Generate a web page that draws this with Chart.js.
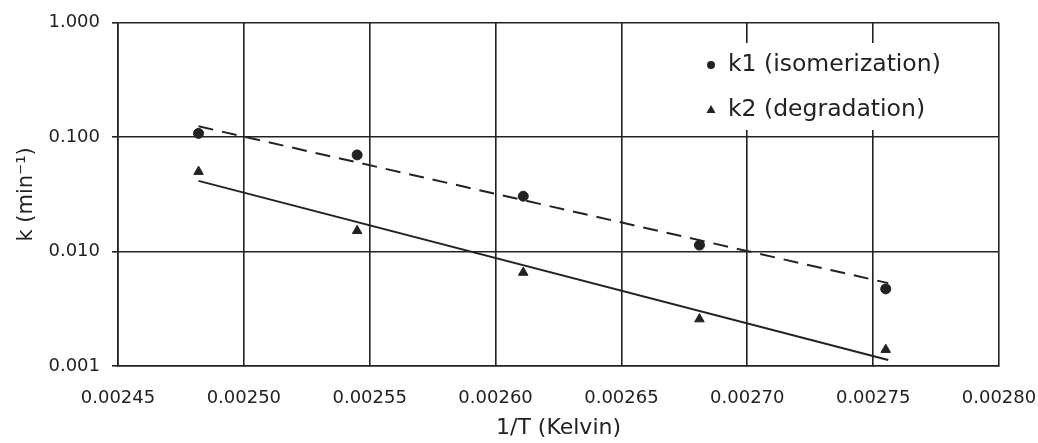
<!DOCTYPE html>
<html lang="en">
<head>
  <meta charset="UTF-8" />
  <title>k vs 1/T</title>
  <script src="https://cdn.jsdelivr.net/npm/chart.js"></script>
  <style>
    html, body { margin: 0; padding: 0; background: #fff; }
    #wrap { width: 1038px; height: 443px; }
  </style>
</head>
<body>
  <div id="wrap"><canvas id="arrhenius" width="1038" height="443"></canvas></div>
  <script>
    // Data
    const xTicks = [0.00245, 0.00250, 0.00255, 0.00260, 0.00265, 0.00270, 0.00275, 0.00280];
    const yTicks = [0.001, 0.01, 0.1, 1];
    const invT = [0.002482, 0.002545, 0.002611, 0.002681, 0.002755];
    const k1 = [0.108, 0.070, 0.0305, 0.0114, 0.00472];
    const k2 = [0.050, 0.0152, 0.00656, 0.00257, 0.00139];
    // trendline end points
    const trendX = [0.002482, 0.002756];
    const k1Trend = [0.1245, 0.00530];
    const k2Trend = [0.0415, 0.00113];

    const ink = '#222';
    const font = 'DejaVu Sans';
    const pts = (xs, ys) => xs.map((x, i) => ({ x, y: ys[i] }));

    // legend drawn inside the plot, on a white patch like the original
    const insideLegend = {
      id: 'insideLegend',
      afterDatasetsDraw(chart) {
        const ctx = chart.ctx;
        ctx.save();
        ctx.fillStyle = '#fff';
        ctx.fillRect(695, 43, 265, 87);
        ctx.fillStyle = ink;
        ctx.font = '23.5px "' + font + '"';
        ctx.textBaseline = 'middle';
        ctx.beginPath(); ctx.arc(711, 65, 4, 0, Math.PI * 2); ctx.fill();
        ctx.fillText('k1 (isomerization)', 728, 65);
        ctx.beginPath();
        ctx.moveTo(711, 105); ctx.lineTo(715.5, 113); ctx.lineTo(706.5, 113); ctx.closePath(); ctx.fill();
        ctx.fillText('k2 (degradation)', 728, 110);
        ctx.restore();
      }
    };

    new Chart(document.getElementById('arrhenius'), {
      type: 'scatter',
      data: {
        datasets: [
          { label: 'k1 (isomerization)', data: pts(invT, k1), pointStyle: 'circle', pointRadius: 5,
            backgroundColor: ink, borderColor: ink, showLine: false },
          { label: 'k2 (degradation)', data: pts(invT, k2), pointStyle: 'triangle', pointRadius: 5.5,
            backgroundColor: ink, borderColor: ink, showLine: false },
          { label: 'k1 trend', data: pts(trendX, k1Trend), showLine: true, pointRadius: 0,
            borderColor: ink, borderWidth: 2, borderDash: [15, 9] },
          { label: 'k2 trend', data: pts(trendX, k2Trend), showLine: true, pointRadius: 0,
            borderColor: ink, borderWidth: 2 }
        ]
      },
      options: {
        responsive: false,
        animation: false,
        layout: { padding: { left: 0, right: 39, top: 22, bottom: 0 } },
        plugins: { legend: { display: false }, tooltip: { enabled: false } },
        scales: {
          x: {
            type: 'linear', min: 0.00245, max: 0.0028,
            afterBuildTicks: s => { s.ticks = xTicks.map(v => ({ value: v })); },
            afterFit: s => { s.height = 77; s.paddingLeft = 0; s.paddingRight = 0; },
            grid: { color: '#222', lineWidth: 1.6, tickLength: 0 },
            border: { color: '#222', width: 1.6 },
            ticks: { color: ink, font: { family: font, size: 18 }, padding: 22, maxRotation: 0,
              callback: v => v.toFixed(5) },
            title: { display: true, text: '1/T (Kelvin)', color: ink,
              font: { family: font, size: 22 }, padding: { top: 0, bottom: 2 } }
          },
          y: {
            type: 'logarithmic', min: 0.001, max: 1,
            afterBuildTicks: s => { s.ticks = yTicks.map(v => ({ value: v })); },
            afterFit: s => { s.width = 118; },
            grid: { color: '#222', lineWidth: 1.6, tickLength: 6 },
            border: { color: '#222', width: 1.6 },
            ticks: { color: ink, font: { family: font, size: 18 }, padding: 12,
              callback: v => Number(v).toFixed(3) },
            title: { display: true, text: 'k (min⁻¹)', color: ink,
              font: { family: font, size: 21 }, padding: { top: 14, bottom: 0 } }
          }
        }
      },
      plugins: [insideLegend]
    });
  </script>
</body>
</html>
